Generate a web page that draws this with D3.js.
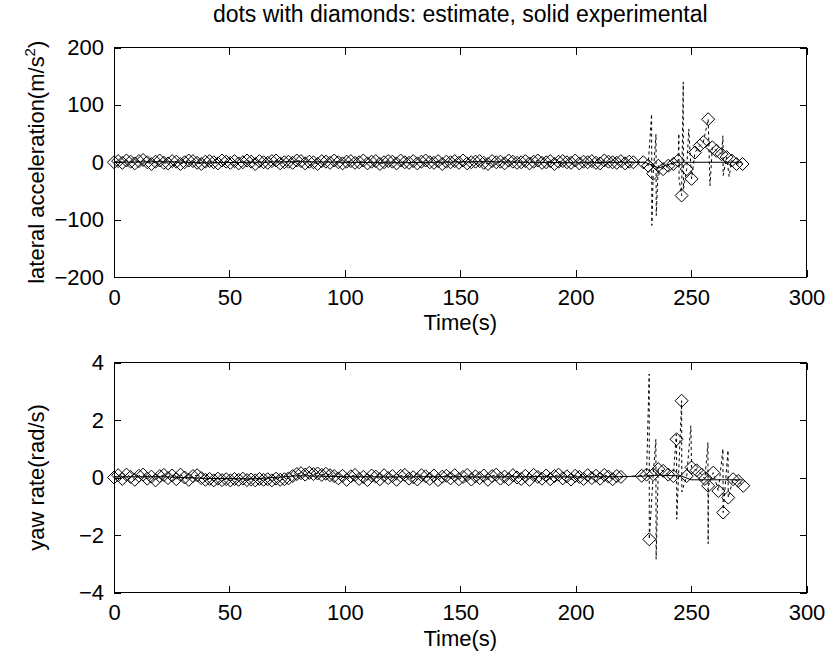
<!DOCTYPE html>
<html><head><meta charset="utf-8">
<script src="https://cdn.jsdelivr.net/npm/d3@7"></script>
<style>
html,body{margin:0;padding:0;background:#fff;}
svg text{font-family:"Liberation Sans",Arial,Helvetica,sans-serif;fill:#000;}
</style></head>
<body><svg id="chart" width="831" height="668"></svg>
<script>
// ---------------- DATA ----------------
const titleText = "dots with diamonds: estimate, solid experimental";
const xTicks = [0, 50, 100, 150, 200, 250, 300];
const accTicks = [-200, -100, 0, 100, 200];
const yawTicks = [-4, -2, 0, 2, 4];

// early part of the estimate: one sample every 1.8 s from t = 0
const earlyStep = 1.8;
const accEarly = [0,2,-1,3,1,-2,2,4,0,-3,1,3,-1,-2,2,1,-3,0,3,2,-1,-3,1,2,0,-2,3,1,-1,2,-2,0,3,1,-3,2,0,-1,2,3,-2,0,1,-1,3,2,-2,1,0,-3,2,1,-1,3,0,-2,1,2,-1,0,3,-2,1,2,-3,0,2,1,-2,3,0,-1,2,-2,1,3,0,-1,2,-3,1,0,2,-1,3,-2,0,1,2,-1,-3,2,0,1,-2,3,1,-1,0,2,-2,1,3,-1,0,2,-3,1,2,0,-1,3,-2,1,0,2,-1,-2,3,1,0,-1,2,-2,1,0];
const yawEarly = [0,0.08,-0.05,0.1,0.02,-0.08,0.06,0.1,-0.04,0.03,-0.1,0.05,0.09,-0.02,0.07,-0.06,0.1,0.0,-0.08,0.05,0.08,
  -0.02,-0.08,-0.05,-0.1,-0.04,-0.09,-0.06,-0.1,-0.05,-0.08,-0.04,-0.09,-0.07,-0.1,-0.05,-0.08,-0.06,-0.1,-0.04,-0.08,-0.06,-0.03,
  0.05,0.12,0.15,0.1,0.16,0.12,0.14,0.09,0.13,0.08,0.05,
  -0.03,0.06,-0.08,0.04,0.09,-0.05,0.02,-0.09,0.07,0.03,-0.06,0.08,-0.02,0.05,-0.08,0.06,0.09,-0.04,0.01,-0.07,0.08,0.04,-0.05,0.07,-0.09,0.03,0.06,-0.03,0.08,-0.06,0.02,0.09,-0.07,0.04,-0.02,0.07,-0.08,0.05,0.1,-0.04,0.03,-0.06,0.08,0.0,-0.05,0.06,-0.08,0.09,0.02,-0.04,0.07,-0.06,0.05,0.1,-0.03,0.04,-0.07,0.06,0.02,-0.05,0.08,-0.02,0.06,-0.04,0.09,0.03,-0.06,0.05,0.02];

// late part: diamonds (estimate markers)
const accLateTime = [229.3,231.4,233.6,235.8,237.9,240.1,242.3,244.4,245.9,248.1,250.2,251.7,253.8,255.3,257.4,259.2,261.0,263.2,265.4,267.6,269.7,272.3];
const accLate     = [0,-6,-20,-6,-12,-6,-3,3,-58,-12,-29,17,29,35,75,26,20,14,9,3,-3,-3];
const yawLateTime = [228.6,230.7,231.9,233.6,235.8,237.9,240.1,242.3,243.7,245.9,248.1,250.2,252.4,254.6,256.0,257.4,259.6,261.8,263.9,266.1,268.2,270.4,272.6];
const yawLate     = [0.06,0.1,-2.15,0.11,0.29,0.23,0.1,0.05,1.33,2.67,0.05,0.35,0.25,0.1,-0.05,-0.29,0.17,-0.47,-1.22,-0.7,-0.06,-0.12,-0.29];

// late part: dotted estimate trace (full rate, with spikes)
const accDotTime = [229.3,231.4,232.9,233.0,233.6,234.8,234.9,235.8,237.9,240.1,242.3,244.4,244.7,244.8,245.9,246.6,246.7,248.1,249.0,250.2,251.7,253.8,255.3,257.4,258.2,259.2,261.0,263.2,263.8,263.9,265.4,266.5,267.6,269.7,272.3];
const accDot     = [0,-6,84,-110,-20,49,-93,-6,-12,-6,-3,3,50,-30,-58,140,-47,-12,58,-29,17,29,35,75,-41,26,20,14,46,-23,9,-25,3,-3,-3];
const yawDotTime = [228.6,230.7,231.85,231.9,233.6,234.75,234.85,235.8,237.9,240.1,242.3,243.6,243.7,243.8,245.9,246.0,248.1,249.9,250.2,252.4,254.6,256.0,257.3,257.4,257.5,259.6,261.8,263.8,263.9,266.0,266.1,268.2,270.4,272.6];
const yawDot     = [0.06,0.1,3.6,-2.15,0.11,1.33,-2.84,0.29,0.23,0.1,0.05,1.5,1.33,-1.45,2.67,-0.5,0.05,1.8,0.35,0.25,0.1,-0.05,1.22,-2.3,-0.29,0.17,-0.47,1.0,-1.22,0.95,-0.7,-0.06,-0.12,-0.29];

// experimental (solid)
const expTime = [0,20,40,60,80,100,120,140,160,180,200,220,230,236,243,246,250,260,272];
const accExp  = [0,1,-1,0,1,0,-1,0,1,0,-1,0,0,-10,0,0,0,0,0];
const yawExp  = [0.02,0.03,-0.03,-0.05,0.06,0.03,0.02,0.03,0.02,0.03,0.02,0.03,0.05,0.08,0.06,0.05,-0.08,-0.08,-0.08];

// ---------------- DRAW ----------------
const svg = d3.select("#chart");
const FONT = 22;
const L = 114, R = 806.5;

function panel(cfg) {
  const x = d3.scaleLinear().domain([0, 300]).range([L, R]);
  const y = d3.scaleLinear().domain(cfg.domain).range([cfg.bottom, cfg.top]);
  const g = svg.append("g");

  const earlyT = cfg.early.map((v, i) => i * earlyStep);
  const diamonds = cfg.early.map((v, i) => [earlyT[i], v])
    .concat(cfg.lateT.map((t, i) => [t, cfg.late[i]]));
  const dots = cfg.early.map((v, i) => [earlyT[i], v])
    .concat(cfg.dotT.map((t, i) => [t, cfg.dot[i]]));

  const line = d3.line().x(d => x(d[0])).y(d => y(d[1]));

  // experimental solid
  g.append("path").datum(cfg.expT.map((t, i) => [t, cfg.exp[i]]))
    .attr("d", line).attr("fill", "none").attr("stroke", "#000").attr("stroke-width", 1);
  // estimate dotted
  g.append("path").datum(dots)
    .attr("d", line).attr("fill", "none").attr("stroke", "#000").attr("stroke-width", 1)
    .attr("stroke-dasharray", "3,3");
  // diamonds
  const s = 6.5;
  g.append("g").selectAll("path").data(diamonds).join("path")
    .attr("d", d => { const cx = x(d[0]), cy = y(d[1]);
      return `M${cx},${cy - s}L${cx + s},${cy}L${cx},${cy + s}L${cx - s},${cy}Z`; })
    .attr("fill", "none").attr("stroke", "#000").attr("stroke-width", 1);

  // axes (ticks pointing inward)
  const ax = g.append("g").attr("shape-rendering", "crispEdges");
  ax.append("g").attr("transform", `translate(0,${cfg.bottom})`)
    .call(d3.axisBottom(x).tickValues(xTicks).tickSizeInner(-7).tickSizeOuter(0).tickPadding(12).tickFormat(d3.format("d")));
  ax.append("g").attr("transform", `translate(0,${cfg.top})`)
    .call(d3.axisTop(x).tickValues(xTicks).tickSizeInner(-7).tickSizeOuter(0).tickFormat(""));
  ax.append("g").attr("transform", `translate(${L},0)`)
    .call(d3.axisLeft(y).tickValues(cfg.ticks).tickSizeInner(-7).tickSizeOuter(0).tickPadding(10).tickFormat(d3.format("d")));
  ax.append("g").attr("transform", `translate(${R},0)`)
    .call(d3.axisRight(y).tickValues(cfg.ticks).tickSizeInner(-7).tickSizeOuter(0).tickFormat(""));
  ax.selectAll(".domain").remove();
  ax.selectAll("line").attr("stroke", "#000");
  ax.selectAll("text").attr("font-size", FONT).attr("font-family", null).style("fill", "#000");
  ax.append("rect").attr("x", L).attr("y", cfg.top).attr("width", R - L).attr("height", cfg.bottom - cfg.top)
    .attr("fill", "none").attr("stroke", "#000").attr("stroke-width", 1);

  // labels
  svg.append("text").attr("x", (L + R) / 2).attr("y", cfg.bottom + 53)
    .attr("text-anchor", "middle").attr("font-size", FONT).text("Time(s)");
  const yl = svg.append("text")
    .attr("transform", `translate(44,${(cfg.top + cfg.bottom) / 2}) rotate(-90)`)
    .attr("text-anchor", "middle").attr("font-size", FONT);
  yl.append("tspan").text(cfg.ylabel[0]);
  if (cfg.ylabel.length > 1) {
    yl.append("tspan").attr("dy", -9).attr("font-size", 15).text(cfg.ylabel[1]);
    yl.append("tspan").attr("dy", 9).text(cfg.ylabel[2]);
  }
}

panel({domain: [-200, 200], top: 47.5, bottom: 277, ticks: accTicks,
  early: accEarly, lateT: accLateTime, late: accLate, dotT: accDotTime, dot: accDot,
  expT: expTime, exp: accExp, ylabel: ["lateral acceleration(m/s", "2", ")"]});
panel({domain: [-4, 4], top: 362.5, bottom: 592.5, ticks: yawTicks,
  early: yawEarly, lateT: yawLateTime, late: yawLate, dotT: yawDotTime, dot: yawDot,
  expT: expTime, exp: yawExp, ylabel: ["yaw rate(rad/s)"]});

svg.append("text").attr("x", (L + R) / 2).attr("y", 22).attr("text-anchor", "middle")
  .attr("font-size", 23).text(titleText);
</script></body></html>
